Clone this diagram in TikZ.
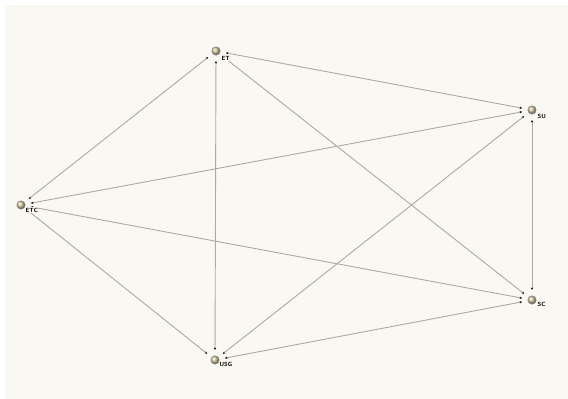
\documentclass[tikz,border=0pt]{standalone}
\usetikzlibrary{arrows.meta,shadings}
\definecolor{bgc}{HTML}{F9F8F3}
\definecolor{edgec}{HTML}{ABAAA4}
\definecolor{ballc}{HTML}{D2C69C}
\tikzset{
  vtx/.style={circle,shading=ball,ball color=ballc,draw=black!45,line width=0.4pt,minimum size=8.5pt,inner sep=0pt},
  lbl/.style={anchor=west,inner sep=0.4pt,fill=bgc,font=\fontsize{6}{6}\selectfont\sffamily\bfseries},
  edge/.style={draw=edgec,line width=0.9pt,shorten <=5.5pt,shorten >=5.5pt,
     {Stealth[length=2.6pt,width=2.2pt,black]}-{Stealth[length=2.6pt,width=2.2pt,black]}}
}
\begin{document}
\begin{tikzpicture}[x=1pt,y=-1pt]
\fill[white] (0,0) rectangle (568,399);
\fill[bgc] (5,5) rectangle (568,399);
\useasboundingbox (0,0) rectangle (568,399);
\node[vtx] (ET) at (216,51) {};
\node[vtx] (SU) at (532,110) {};
\node[vtx] (ETC) at (21,205) {};
\node[vtx] (SC) at (532,300) {};
\node[vtx] (USG) at (215,360) {};
\draw[edge] (ET) -- (SU);
\draw[edge] (ET) -- (ETC);
\draw[edge] (ET) -- (USG);
\draw[edge] (ET) -- (SC);
\draw[edge] (SU) -- (ETC);
\draw[edge] (SU) -- (USG);
\draw[edge] (SU) -- (SC);
\draw[edge] (ETC) -- (SC);
\draw[edge] (ETC) -- (USG);
\draw[edge] (USG) -- (SC);
\node[lbl] (lET) at (221,58.5) {ET};
\node[lbl] (lSU) at (537,116) {SU};
\node[lbl] (lETC) at (25,210) {ETC};
\node[lbl] (lSC) at (537,304) {SC};
\node[lbl] (lUSG) at (219,364) {USG};
\end{tikzpicture}
\end{document}
